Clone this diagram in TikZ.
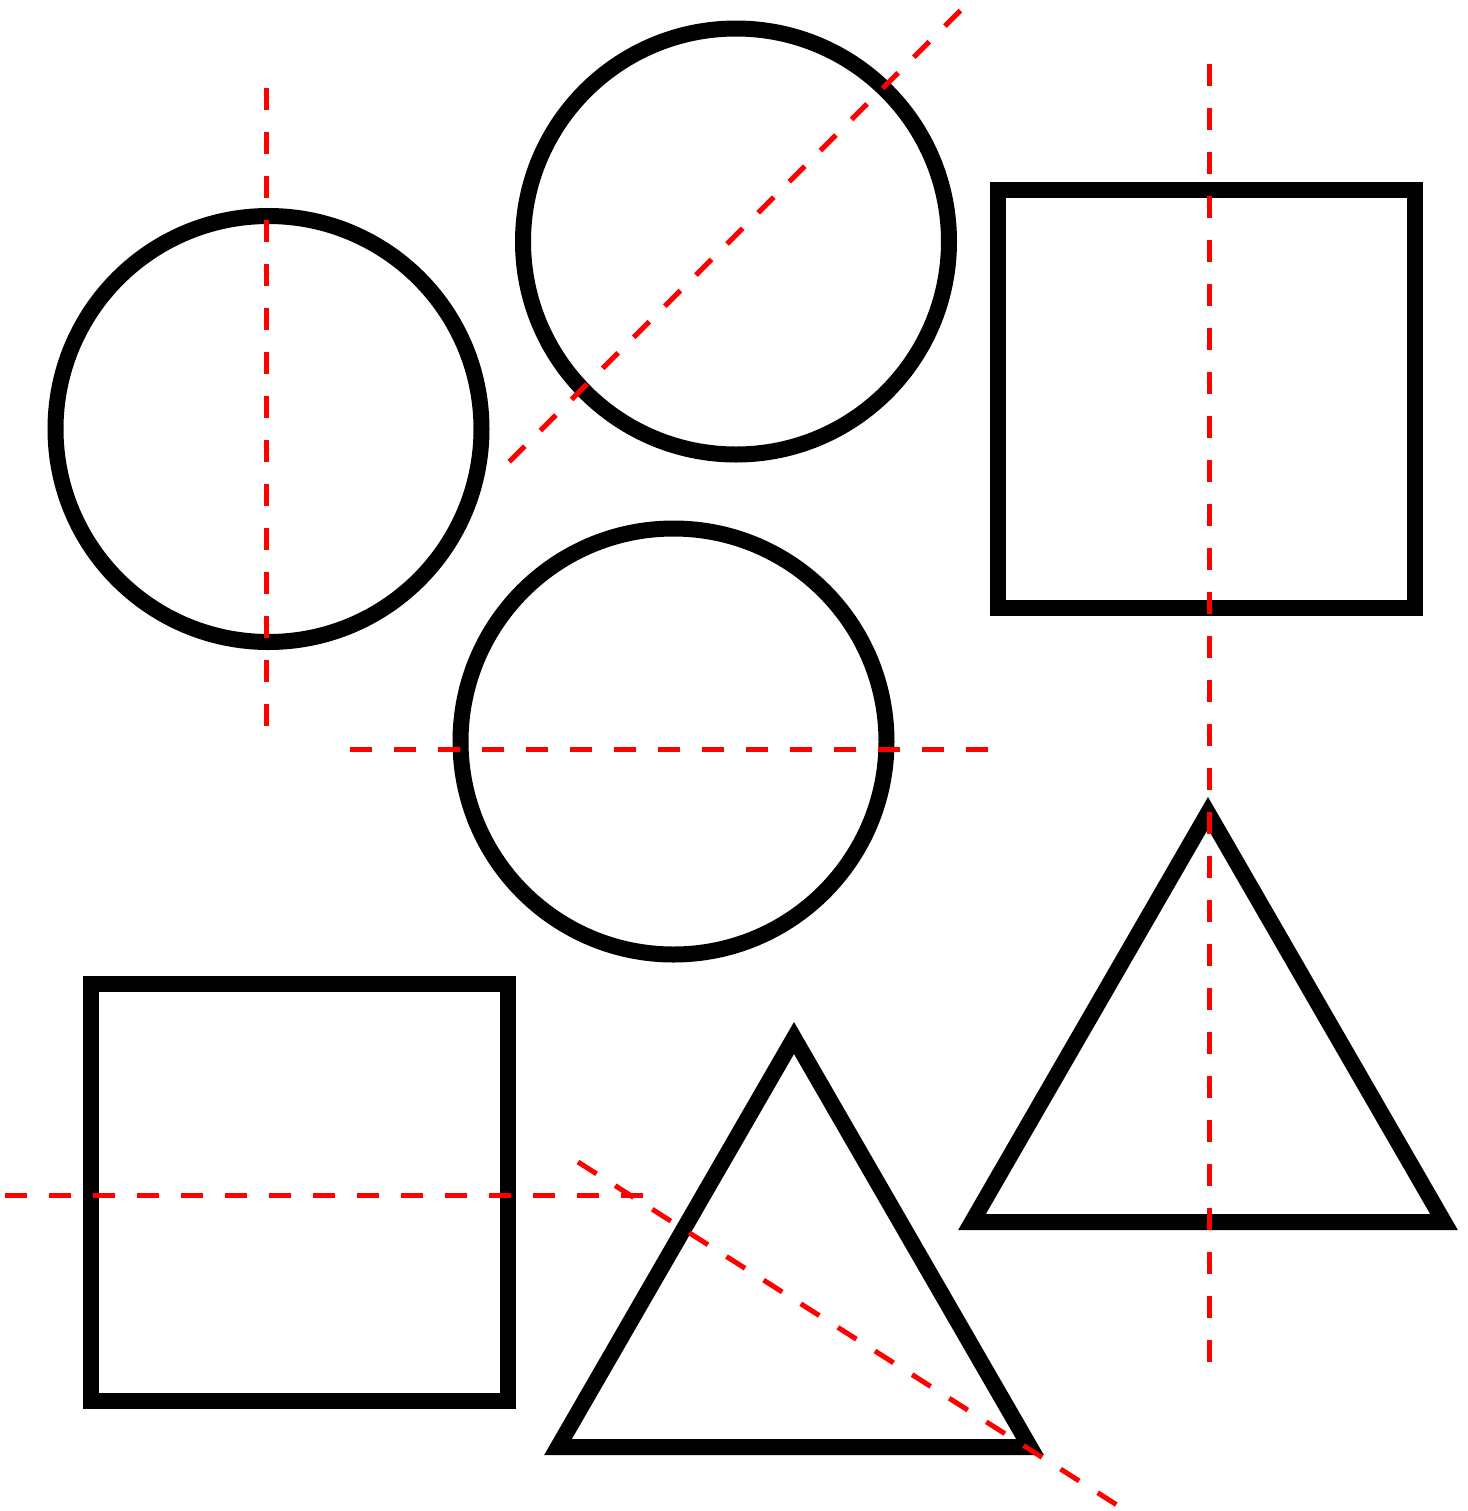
\documentclass[tikz,border=0pt]{standalone}
\begin{document}
\begin{tikzpicture}[x=0.5pt,y=-0.5pt,
  outline/.style={draw=black,line width=8pt,miter limit=10},
  symaxis/.style={draw=red,line width=2.5pt,dash pattern=on 11pt off 11pt}]
\useasboundingbox (0,0) rectangle (1468,1511);
% black shapes
\draw[outline] (268.5,429) circle[radius=213];
\draw[outline] (736,241.5) circle[radius=213];
\draw[outline] (673.5,741.5) circle[radius=213];
\draw[outline] (998,190) rectangle (1415,608);
\draw[outline] (90.5,984) rectangle (508,1401);
\draw[outline] (1208,813) -- (1444,1222) -- (972,1222) -- cycle;
\draw[outline] (794,1038) -- (1030,1447) -- (558,1447) -- cycle;
% red dashed lines
\coordinate (a1) at (266,88);   \coordinate (a2) at (266,728);
\coordinate (b1) at (509.3,461.7); \coordinate (b2) at (962.7,8.3);
\coordinate (c1) at (350,749);  \coordinate (c2) at (990,749);
\coordinate (d1) at (1209,64);  \coordinate (d2) at (1209,1366);
\coordinate (e1) at (5,1195);   \coordinate (e2) at (645,1195);
\coordinate (f1) at (578,1162); \coordinate (f2) at (1117,1505);
\draw[symaxis] (a1) -- (a2);
\draw[symaxis] (b1) -- (b2);
\draw[symaxis] (c1) -- (c2);
\draw[symaxis] (d1) -- (d2);
\draw[symaxis] (e1) -- (e2);
\draw[symaxis] (f1) -- (f2);
\end{tikzpicture}
\end{document}
